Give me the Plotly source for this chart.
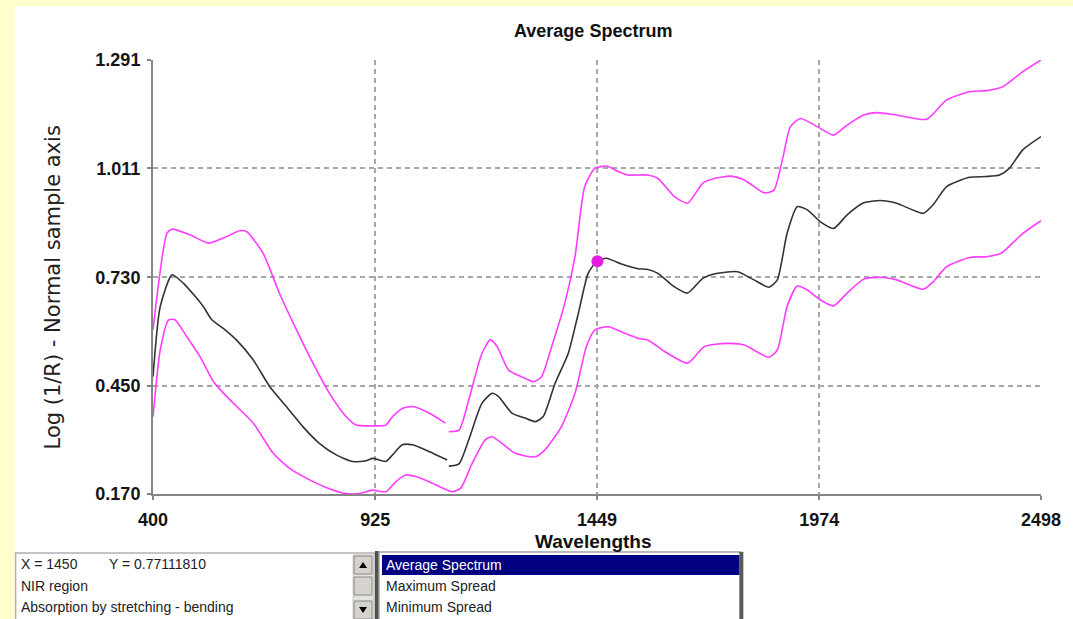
import plotly.graph_objects as go

# ---------------- data ----------------
upper_x = [400, 433, 445, 488, 531, 566, 605, 621, 660, 699, 739, 778, 817, 856, 880, 919, 950, 966,
           989, 1013, 1052, 1091, 1095, 1099, 1123, 1146, 1177, 1197, 1213, 1240, 1271, 1299, 1318,
           1342, 1373, 1397, 1420, 1444, 1471, 1499, 1522, 1569, 1593, 1632, 1663, 1699, 1726, 1765,
           1797, 1844, 1867, 1887, 1906, 1930, 1969, 2008, 2040, 2079, 2110, 2157, 2228, 2275, 2329,
           2369, 2408, 2455, 2498]
upper_y = [0.594, 0.843, 0.854, 0.839, 0.818, 0.831, 0.850, 0.848, 0.792, 0.688, 0.594, 0.508, 0.430,
           0.370, 0.348, 0.346, 0.348, 0.370, 0.391, 0.396, 0.379, 0.353, None, 0.331, 0.335, 0.413,
           0.533, 0.568, 0.551, 0.490, 0.473, 0.460, 0.473, 0.551, 0.663, 0.783, 0.964, 1.011, 1.017,
           1.003, 0.994, 0.994, 0.985, 0.938, 0.921, 0.973, 0.985, 0.991, 0.981, 0.948, 0.955, 1.033,
           1.119, 1.140, 1.119, 1.097, 1.123, 1.149, 1.155, 1.149, 1.138, 1.188, 1.209, 1.212, 1.222,
           1.261, 1.291]

avg_x = [400, 417, 445, 472, 503, 519, 539, 566, 597, 637, 676, 715, 754, 793, 833, 872, 903, 919,
         950, 966, 989, 1013, 1052, 1095, 1097, 1099, 1123, 1146, 1177, 1201, 1217, 1248, 1279, 1303,
         1322, 1350, 1381, 1405, 1428, 1448, 1471, 1507, 1546, 1569, 1593, 1632, 1663, 1699, 1734,
         1781, 1820, 1855, 1875, 1898, 1922, 1946, 1977, 2008, 2040, 2079, 2118, 2157, 2220, 2243,
         2275, 2329, 2369, 2400, 2423, 2455, 2498]
avg_y = [0.473, 0.654, 0.736, 0.714, 0.676, 0.654, 0.620, 0.598, 0.568, 0.516, 0.447, 0.396, 0.344,
         0.301, 0.271, 0.254, 0.256, 0.262, 0.254, 0.271, 0.297, 0.297, 0.280, 0.258, None, 0.242,
         0.248, 0.310, 0.404, 0.430, 0.421, 0.379, 0.366, 0.357, 0.370, 0.456, 0.533, 0.637, 0.740,
         0.770, 0.779, 0.764, 0.752, 0.750, 0.740, 0.705, 0.689, 0.727, 0.740, 0.744, 0.723, 0.704,
         0.723, 0.843, 0.912, 0.904, 0.873, 0.856, 0.891, 0.922, 0.928, 0.921, 0.895, 0.917, 0.964,
         0.988, 0.990, 0.994, 1.011, 1.059, 1.093]

lower_x = [400, 417, 437, 452, 480, 511, 543, 582, 637, 684, 723, 762, 809, 856, 887, 919, 950, 974,
           997, 1021, 1060, 1107, 1127, 1154, 1185, 1201, 1224, 1256, 1303, 1326, 1365, 1397, 1424,
           1444, 1475, 1515, 1546, 1569, 1609, 1663, 1703, 1757, 1797, 1855, 1875, 1898, 1922, 1946,
           1977, 2008, 2040, 2079, 2118, 2157, 2220, 2243, 2275, 2329, 2369, 2404, 2455, 2498]
lower_y = [0.370, 0.542, 0.620, 0.620, 0.576, 0.525, 0.460, 0.413, 0.353, 0.275, 0.236, 0.211, 0.187,
           0.171, 0.171, 0.180, 0.176, 0.202, 0.219, 0.215, 0.198, 0.176, 0.185, 0.249, 0.310, 0.318,
           0.301, 0.275, 0.266, 0.284, 0.344, 0.430, 0.551, 0.594, 0.602, 0.585, 0.572, 0.568, 0.538,
           0.508, 0.551, 0.559, 0.555, 0.523, 0.542, 0.654, 0.707, 0.697, 0.671, 0.656, 0.689, 0.725,
           0.730, 0.723, 0.699, 0.718, 0.757, 0.781, 0.783, 0.792, 0.843, 0.876]

cursor_x = [1450]
cursor_y = [0.77111810]

x_ticks = [400, 925, 1449, 1974, 2498]
x_ticktext = ["400", "925", "1449", "1974", "2498"]
y_ticks = [0.170, 0.450, 0.730, 1.011, 1.291]
y_ticktext = ["0.170", "0.450", "0.730", "1.011", "1.291"]

info_lines = ["NIR region", "Absorption by stretching - bending"]
series_names = ["Average Spectrum", "Maximum Spread", "Minimum Spread"]

# ---------------- layout geometry (pixels) ----------------
FW, FH = 1073, 619
L, R, T, B = 153, 1045, 60, 494
PW, PH = R - L, B - T


def px(x):
    return (x - L) / PW


def py(y):
    return (B - y) / PH


FONT = "Liberation Sans, Arial, Helvetica, sans-serif"
MAGENTA = "#ff3cff"
DARK = "#333333"
YELLOW = "#ffffcc"

fig = go.Figure()
fig.add_trace(go.Scatter(x=upper_x, y=upper_y, mode="lines", name=series_names[1],
                         line=dict(color=MAGENTA, width=1.6, shape="spline", smoothing=0.6),
                         connectgaps=False))
fig.add_trace(go.Scatter(x=lower_x, y=lower_y, mode="lines", name=series_names[2],
                         line=dict(color=MAGENTA, width=1.6, shape="spline", smoothing=0.6),
                         connectgaps=False))
fig.add_trace(go.Scatter(x=avg_x, y=avg_y, mode="lines", name=series_names[0],
                         line=dict(color=DARK, width=1.6, shape="spline", smoothing=0.6),
                         connectgaps=False))
fig.add_trace(go.Scatter(x=cursor_x, y=cursor_y, mode="markers", name="cursor",
                         marker=dict(color="#e21ee2", size=12, line=dict(color="#e21ee2", width=0))))

shapes = []
# yellow slide border (left strip and top strip) around the white panel
shapes.append(dict(type="rect", xref="paper", yref="paper", layer="below",
                   x0=px(-5), x1=px(14), y0=py(FH + 5), y1=py(-5),
                   fillcolor=YELLOW, line=dict(width=0)))
shapes.append(dict(type="rect", xref="paper", yref="paper", layer="below",
                   x0=px(-5), x1=px(FW + 5), y0=py(6), y1=py(-5),
                   fillcolor=YELLOW, line=dict(width=0)))
# left list box
shapes.append(dict(type="rect", xref="paper", yref="paper",
                   x0=px(15), x1=px(376), y0=py(FH + 3), y1=py(553),
                   fillcolor="white", line=dict(color="#b0b0b0", width=1.5)))
# scrollbar track and buttons
shapes.append(dict(type="rect", xref="paper", yref="paper",
                   x0=px(354), x1=px(375), y0=py(FH + 2), y1=py(555),
                   fillcolor="#e4e2dc", line=dict(color="#c8c6c0", width=1)))
for (a, b) in [(556, 574), (577, 595), (601, 619)]:
    shapes.append(dict(type="rect", xref="paper", yref="paper",
                       x0=px(355), x1=px(373), y0=py(b), y1=py(a),
                       fillcolor="#d6d3cc", line=dict(color="#8a8a8a", width=1)))
# arrows
shapes.append(dict(type="path", xref="paper", yref="paper",
                   path=f"M {px(360)} {py(568)} L {px(368)} {py(568)} L {px(364)} {py(562)} Z",
                   fillcolor="black", line=dict(width=0)))
shapes.append(dict(type="path", xref="paper", yref="paper",
                   path=f"M {px(360)} {py(607)} L {px(368)} {py(607)} L {px(364)} {py(613)} Z",
                   fillcolor="black", line=dict(width=0)))
# separator
shapes.append(dict(type="rect", xref="paper", yref="paper",
                   x0=px(376), x1=px(380), y0=py(FH + 2), y1=py(551),
                   fillcolor="#505050", line=dict(width=0)))
# right list box
shapes.append(dict(type="rect", xref="paper", yref="paper",
                   x0=px(380), x1=px(744), y0=py(FH + 3), y1=py(552),
                   fillcolor="white", line=dict(color="#a0a0a0", width=1.5)))
shapes.append(dict(type="rect", xref="paper", yref="paper",
                   x0=px(742), x1=px(746), y0=py(FH + 2), y1=py(552),
                   fillcolor="#5a5a5a", line=dict(width=0)))
shapes.append(dict(type="rect", xref="paper", yref="paper",
                   x0=px(383), x1=px(742), y0=py(575), y1=py(555),
                   fillcolor="#000080", line=dict(width=0)))

annotations = []
annotations.append(dict(text="<b>Average Spectrum</b>", xref="paper", yref="paper",
                        x=px(595), y=py(31), xanchor="center", yanchor="middle",
                        showarrow=False, font=dict(family=FONT, size=18, color="#111")))
annotations.append(dict(text="<b>Wavelengths</b>", xref="paper", yref="paper",
                        x=px(595), y=py(541), xanchor="center", yanchor="middle",
                        showarrow=False, font=dict(family=FONT, size=19, color="#111")))
annotations.append(dict(text="Log (1/R) - Normal sample axis", xref="paper", yref="paper",
                        x=px(53), y=py(287), xanchor="center", yanchor="middle", textangle=-90,
                        showarrow=False, font=dict(family="DejaVu Sans, sans-serif", size=21, color="#222")))
small = dict(family=FONT, size=14, color="#222")
annotations.append(dict(text=f"X = {cursor_x[0]}", xref="paper", yref="paper", x=px(18), y=py(564),
                        xanchor="left", yanchor="middle", showarrow=False, font=small))
annotations.append(dict(text=f"Y = {cursor_y[0]:.8f}", xref="paper", yref="paper", x=px(107), y=py(564),
                        xanchor="left", yanchor="middle", showarrow=False, font=small))
for i, t in enumerate(info_lines):
    annotations.append(dict(text=t, xref="paper", yref="paper", x=px(18), y=py(586 + 21 * i),
                            xanchor="left", yanchor="middle", showarrow=False, font=small))
for i, t in enumerate(series_names):
    annotations.append(dict(text=t, xref="paper", yref="paper", x=px(385), y=py(565 + 21 * i),
                            xanchor="left", yanchor="middle", showarrow=False,
                            font=dict(family=FONT, size=14, color="white" if i == 0 else "#222")))

axis_common = dict(showgrid=True, gridcolor="#a6a6a6", gridwidth=1.5, griddash="5px,4px",
                   zeroline=False, showline=True, linecolor="#858585", linewidth=2,
                   ticks="outside", ticklen=4, tickcolor="#858585", tickwidth=1.5,
                   tickfont=dict(family=FONT, size=18, color="#151515", weight="bold"))

fig.update_layout(
    width=FW, height=FH,
    margin=dict(l=L, r=FW - R, t=T, b=FH - B, pad=0),
    paper_bgcolor="white", plot_bgcolor="white",
    showlegend=False,
    xaxis=dict(range=[400, 2498], tickmode="array", tickvals=x_ticks, ticktext=x_ticktext,
               ticklabelstandoff=4, **axis_common),
    yaxis=dict(range=[0.170, 1.291], tickmode="array", tickvals=y_ticks, ticktext=y_ticktext,
               ticklabelstandoff=3, **axis_common),
    shapes=shapes, annotations=annotations,
)

fig.write_html("out.html", config={"displayModeBar": False},
               post_script="document.body.style.margin='0';document.body.style.overflow='hidden';")
